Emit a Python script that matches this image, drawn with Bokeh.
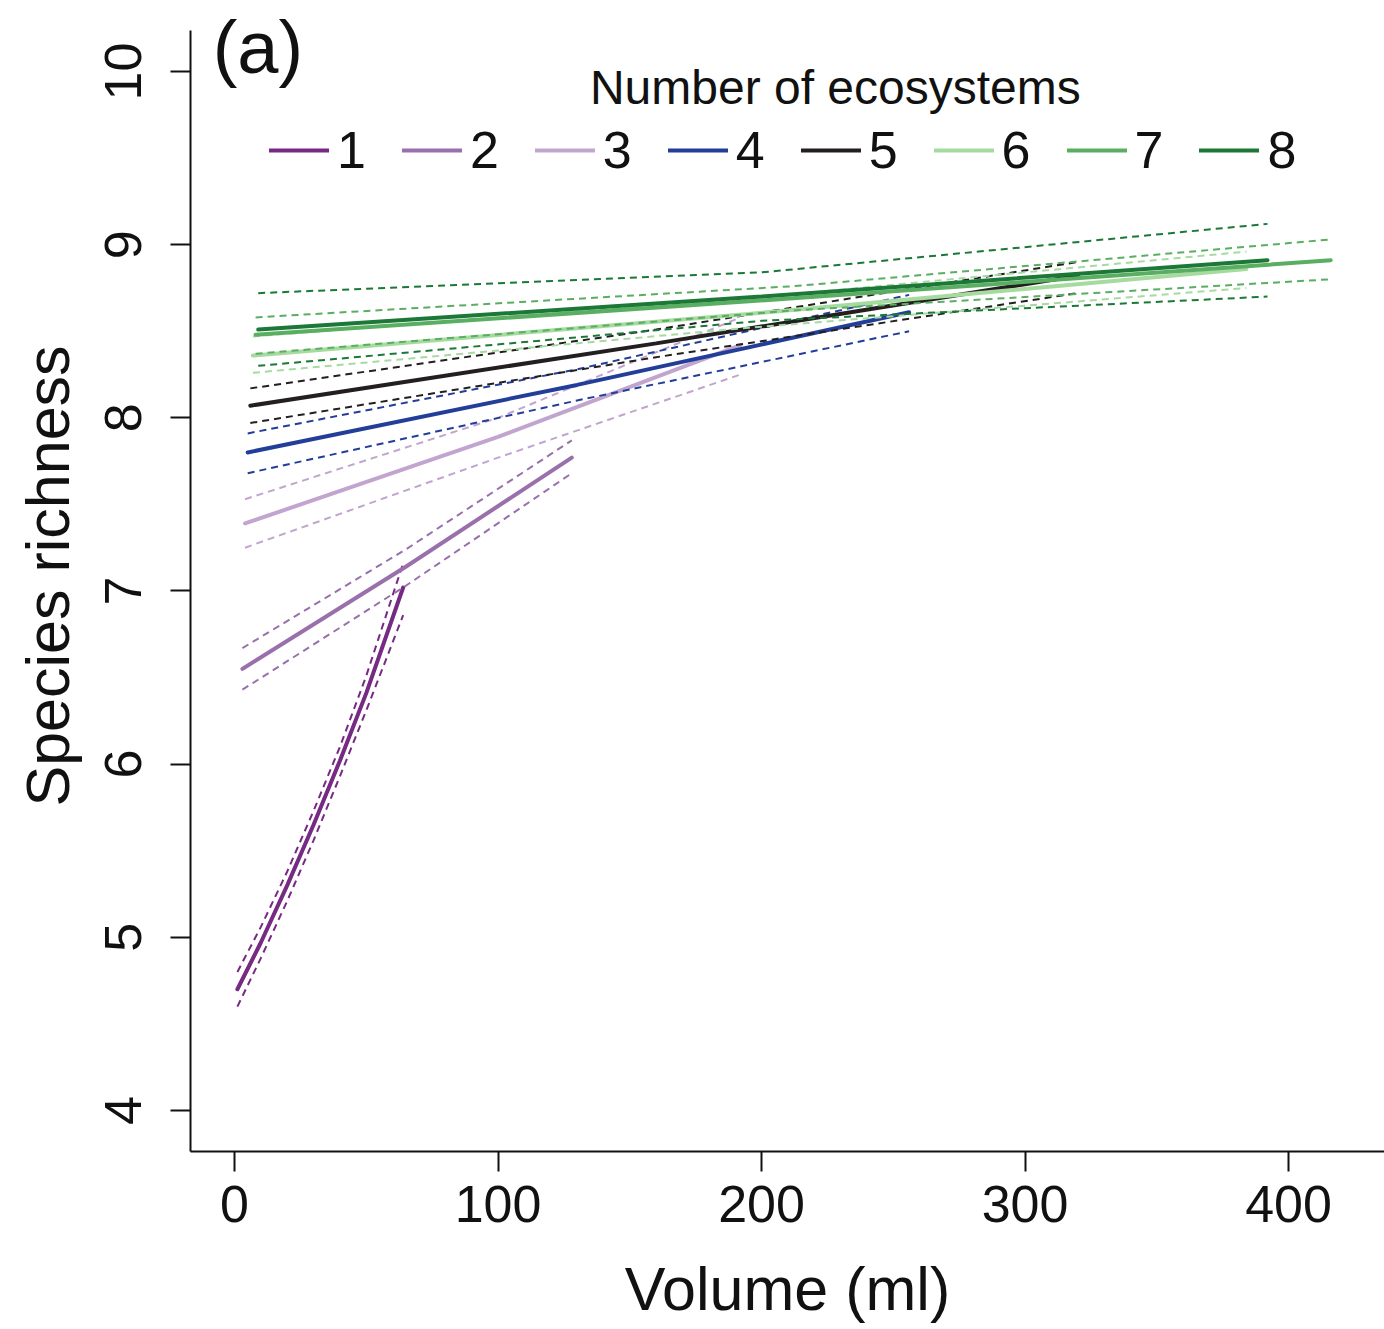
from bokeh.plotting import figure
from bokeh.models import Range1d, Label, FixedTicker
from bokeh.embed import file_html
from bokeh.resources import INLINE

# ---- data (volume in ml, species richness) ----
groups = ["1", "2", "3", "4", "5", "6", "7", "8"]
colors = ["#762a83", "#9970ab", "#c2a5cf", "#233e99", "#231f20", "#a6dba0", "#5aae61", "#1b7837"]

x1 = [1.1, 10, 20, 30, 40, 50, 64]
fit1 = [4.70, 4.97, 5.30, 5.65, 6.02, 6.41, 7.02]
up1 = [4.80, 5.06, 5.38, 5.73, 6.10, 6.51, 7.16]
lo1 = [4.60, 4.88, 5.21, 5.56, 5.93, 6.31, 6.86]

x2 = [3, 65, 128]
fit2 = [6.55, 7.14, 7.77]
up2 = [6.67, 7.24, 7.87]
lo2 = [6.43, 7.03, 7.68]

x3 = [4, 100, 192]
fit3 = [7.39, 7.89, 8.42]
up3 = [7.53, 8.00, 8.58]
lo3 = [7.25, 7.77, 8.25]

x4 = [5, 130, 256]
fit4 = [7.80, 8.19, 8.61]
up4 = [7.91, 8.28, 8.71]
lo4 = [7.68, 8.10, 8.50]

x5 = [6, 160, 320]
fit5 = [8.07, 8.43, 8.82]
up5 = [8.17, 8.51, 8.90]
lo5 = [7.97, 8.35, 8.72]

x6 = [7, 195, 384]
fit6 = [8.36, 8.60, 8.86]
up6 = [8.47, 8.69, 8.96]
lo6 = [8.26, 8.52, 8.75]

x7 = [8, 212, 416]
fit7 = [8.48, 8.69, 8.91]
up7 = [8.58, 8.76, 9.03]
lo7 = [8.37, 8.62, 8.80]

x8 = [9, 200, 392]
fit8 = [8.51, 8.70, 8.91]
up8 = [8.72, 8.84, 9.12]
lo8 = [8.30, 8.56, 8.70]

x_ticks = [0, 100, 200, 300, 400]
y_ticks = [4, 5, 6, 7, 8, 9, 10]

series = [
    (x1, fit1, up1, lo1), (x2, fit2, up2, lo2), (x3, fit3, up3, lo3), (x4, fit4, up4, lo4),
    (x5, fit5, up5, lo5), (x6, fit6, up6, lo6), (x7, fit7, up7, lo7), (x8, fit8, up8, lo8),
]

FONT = "Liberation Sans"

p = figure(frame_width=1194, frame_height=1151,
           x_range=Range1d(-16.7, 436.4), y_range=Range1d(3.763, 10.41),
           output_backend="svg", toolbar_location=None,
           min_border_left=190, min_border_top=0, min_border_right=0, min_border_bottom=150)

p.outline_line_color = None
p.xgrid.visible = False
p.ygrid.visible = False
p.background_fill_color = "white"

for name, col, (xs, fit, up, lo) in zip(groups, colors, series):
    p.line(xs, fit, line_color=col, line_width=4, line_cap="round", legend_label=name)
    p.line(xs, up, line_color=col, line_width=2, line_dash="7 5")
    p.line(xs, lo, line_color=col, line_width=2, line_dash="7 5")

for ax in (p.xaxis[0], p.yaxis[0]):
    ax.axis_line_width = 2
    ax.axis_line_color = "#111111"
    ax.major_tick_line_width = 2
    ax.major_tick_line_color = "#111111"
    ax.major_tick_out = 20
    ax.major_tick_in = 0
    ax.minor_tick_line_color = None
    ax.major_label_text_font = FONT
    ax.major_label_text_font_size = "52px"
    ax.major_label_text_color = "#111111"
    ax.axis_label_text_font = FONT
    ax.axis_label_text_font_size = "61px"
    ax.axis_label_text_font_style = "normal"
    ax.axis_label_text_color = "#111111"

p.yaxis.bounds = (3.763, 10.237)
p.xaxis.ticker = FixedTicker(ticks=x_ticks)
p.yaxis.ticker = FixedTicker(ticks=y_ticks)
p.xaxis.axis_label = "Volume (ml)"
p.yaxis.axis_label = "Species richness"
p.xaxis.major_label_standoff = 14
p.yaxis.major_label_standoff = 29
p.yaxis.major_label_orientation = "vertical"
p.xaxis.axis_label_standoff = 30
p.yaxis.axis_label_standoff = 21

leg = p.legend[0]
leg.orientation = "horizontal"
leg.location = (79, 971)
leg.glyph_width = 60
leg.glyph_height = 20
leg.label_standoff = 8
leg.spacing = 36
leg.padding = 0
leg.margin = 0
leg.border_line_color = None
leg.background_fill_alpha = 0
leg.label_text_font = FONT
leg.label_text_font_size = "52px"
leg.label_text_color = "#111111"

p.add_layout(Label(x=-8.3, y=10.14, text="(a)", text_font=FONT, text_font_size="74px",
                   text_color="#111111", text_baseline="alphabetic", text_align="left"))
p.add_layout(Label(x=228, y=9.907, text="Number of ecosystems", text_font=FONT,
                   text_font_size="48px", text_color="#111111",
                   text_baseline="alphabetic", text_align="center"))

open("out.html", "w").write(file_html(p, INLINE))
